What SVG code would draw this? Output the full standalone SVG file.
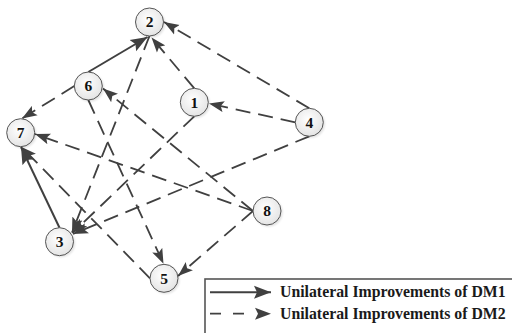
<svg xmlns="http://www.w3.org/2000/svg" width="512" height="333" viewBox="0 0 512 333">
<style>
.e{fill:none;stroke:#404040;stroke-width:1.8}
.d{stroke-dasharray:15 8}
.s{stroke-width:2}
.n circle.b{fill:url(#g);stroke:#555;stroke-width:1}
.n circle.sh{fill:#000;opacity:0.12;filter:url(#bl)}
.n text{font-family:"Liberation Serif","Times New Roman",serif;font-weight:bold;font-size:15.5px;text-anchor:middle;fill:#111}
.lg{font-family:"Liberation Serif","Times New Roman",serif;font-weight:bold;font-size:15.8px;fill:#1a1a1a}
</style>
<defs>
<radialGradient id="g" cx="0.45" cy="0.4" r="0.65">
<stop offset="0" stop-color="#ffffff"/>
<stop offset="1" stop-color="#e2e2e2"/>
</radialGradient>
<filter id="bl" x="-50%" y="-50%" width="200%" height="200%"><feGaussianBlur stdDeviation="1.2"/></filter>
<marker id="ad" markerUnits="userSpaceOnUse" markerWidth="17" markerHeight="12" refX="15" refY="5.5" orient="auto" viewBox="0 0 17 11">
<path d="M0,0 L15,5.5 L0,11 L3,5.5 Z" fill="#404040"/>
</marker>
<marker id="as" markerUnits="userSpaceOnUse" markerWidth="19" markerHeight="14" refX="17" refY="6.5" orient="auto" viewBox="0 0 19 13">
<path d="M0,0 L17,6.5 L0,13 L3,6.5 Z" fill="#404040"/>
</marker>
</defs>
<g id="connectors">
<line class="e s" x1="88.3" y1="72" x2="147.5" y2="37" marker-end="url(#as)"/>
<line class="e s" x1="59.5" y1="227.7" x2="21" y2="147" marker-end="url(#as)"/>
<line class="e d" x1="194.3" y1="88.3" x2="151.5" y2="37.5" marker-end="url(#ad)"/>
<line class="e d" x1="309.3" y1="108.3" x2="164" y2="22" marker-end="url(#ad)"/>
<line class="e d" x1="295.3" y1="122.3" x2="209" y2="103.5" marker-end="url(#ad)"/>
<line class="e d" x1="309.3" y1="136.3" x2="73" y2="234" marker-end="url(#ad)"/>
<line class="e d" x1="194.3" y1="116.3" x2="72.5" y2="233" marker-end="url(#ad)"/>
<line class="e d" x1="149.5" y1="36" x2="72" y2="232.5" marker-end="url(#ad)"/>
<line class="e d" x1="74.3" y1="86" x2="22" y2="118.5" marker-end="url(#ad)"/>
<line class="e d" x1="88.3" y1="100" x2="163.5" y2="263.8" marker-end="url(#ad)"/>
<line class="e d" x1="253" y1="211" x2="103" y2="88.5" marker-end="url(#ad)"/>
<line class="e d" x1="253" y1="211" x2="35" y2="134" marker-end="url(#ad)"/>
<line class="e d" x1="253" y1="211" x2="178" y2="276" marker-end="url(#ad)"/>
<line class="e d" x1="150" y1="278.3" x2="21.5" y2="147" marker-end="url(#ad)"/>
</g>
<g id="n1" class="n"><circle class="sh" cx="195.8" cy="103.8" r="14"/><circle class="b" cx="194.3" cy="102.3" r="14"/><text x="194.3" y="107.5">1</text></g>
<g id="n2" class="n"><circle class="sh" cx="151" cy="23.5" r="14"/><circle class="b" cx="149.5" cy="22" r="14"/><text x="149.5" y="27.2">2</text></g>
<g id="n3" class="n"><circle class="sh" cx="61" cy="243.2" r="14"/><circle class="b" cx="59.5" cy="241.7" r="14"/><text x="59.5" y="246.9">3</text></g>
<g id="n4" class="n"><circle class="sh" cx="310.8" cy="123.8" r="14"/><circle class="b" cx="309.3" cy="122.3" r="14"/><text x="309.3" y="127.5">4</text></g>
<g id="n5" class="n"><circle class="sh" cx="165.5" cy="279.8" r="14"/><circle class="b" cx="164" cy="278.3" r="14"/><text x="164" y="283.5">5</text></g>
<g id="n6" class="n"><circle class="sh" cx="89.8" cy="87.5" r="14"/><circle class="b" cx="88.3" cy="86" r="14"/><text x="88.3" y="91.2">6</text></g>
<g id="n7" class="n"><circle class="sh" cx="22.2" cy="134.2" r="14"/><circle class="b" cx="20.7" cy="132.7" r="14"/><text x="20.7" y="137.9">7</text></g>
<g id="n8" class="n"><circle class="sh" cx="268.5" cy="212.5" r="14"/><circle class="b" cx="267" cy="211" r="14"/><text x="267" y="216.2">8</text></g>
<g id="legend">
<rect x="205" y="279" width="320" height="80" fill="#fff" stroke="#555" stroke-width="1.6"/>
<line class="e s" x1="210" y1="292.3" x2="271" y2="292.3" marker-end="url(#as)"/>
<line class="e" x1="210" y1="313.7" x2="256" y2="313.7" stroke-dasharray="11 12"/>
<path d="M255,307.7 L271,313.7 L255,319.7 L258,313.7 Z" fill="#404040"/>
<text class="lg" x="280" y="297">Unilateral Improvements of DM1</text>
<text class="lg" x="280" y="319">Unilateral Improvements of DM2</text>
</g>
</svg>
